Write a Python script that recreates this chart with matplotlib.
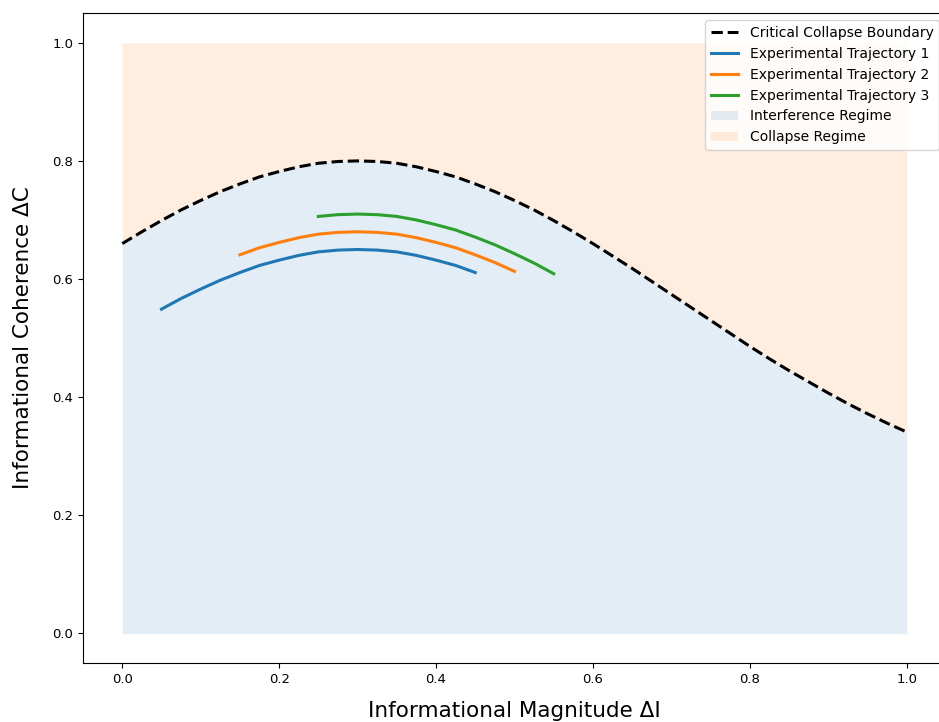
import matplotlib
matplotlib.use('Agg')
import matplotlib.pyplot as plt
import numpy as np

plt.rcParams['font.family'] = ['DejaVu Sans']

# boundary on a 0.025 grid in dI
boundary_x = np.linspace(0.0, 1.0, 41)
boundary_c = [0.660, 0.680, 0.699, 0.717, 0.733, 0.748, 0.761, 0.773, 0.782, 0.790,
              0.796, 0.799, 0.800, 0.799, 0.796, 0.790, 0.782, 0.773, 0.761, 0.748,
              0.733, 0.717, 0.699, 0.680, 0.660, 0.639, 0.618, 0.596, 0.574, 0.552,
              0.530, 0.508, 0.486, 0.465, 0.445, 0.426, 0.407, 0.389, 0.372, 0.356,
              0.341]

traj1_x = np.linspace(0.05, 0.45, 17)
traj1_c = [0.549, 0.567, 0.583, 0.598, 0.611, 0.623, 0.632, 0.640, 0.646, 0.649,
           0.650, 0.649, 0.646, 0.640, 0.632, 0.623, 0.611]

traj2_x = np.linspace(0.15, 0.50, 15)
traj2_c = [0.641, 0.653, 0.662, 0.670, 0.676, 0.679, 0.680, 0.679, 0.676, 0.670,
           0.662, 0.653, 0.641, 0.628, 0.613]

traj3_x = np.linspace(0.25, 0.55, 13)
traj3_c = [0.706, 0.709, 0.710, 0.709, 0.706, 0.700, 0.692, 0.683, 0.671, 0.658,
           0.643, 0.627, 0.609]

fig = plt.figure(figsize=(9.39, 7.22), dpi=100)
# right spine falls just outside the canvas, as in the reference
ax = fig.add_axes([0.0884, 0.0817, 0.919, 0.900])

ax.plot(boundary_x, boundary_c, 'k--', lw=2.2, label='Critical Collapse Boundary')
ax.plot(traj1_x, traj1_c, color='tab:blue', lw=2.2, label='Experimental Trajectory 1')
ax.plot(traj2_x, traj2_c, color='tab:orange', lw=2.2, label='Experimental Trajectory 2')
ax.plot(traj3_x, traj3_c, color='tab:green', lw=2.2, label='Experimental Trajectory 3')

ax.fill_between(boundary_x, 0, boundary_c, color='tab:blue', alpha=0.13, lw=0,
                label='Interference Regime')
ax.fill_between(boundary_x, boundary_c, 1, color='tab:orange', alpha=0.13, lw=0,
                label='Collapse Regime')

ax.set_xlim(-0.05, 1.05)
ax.set_ylim(-0.05, 1.05)
ax.set_xticks(np.arange(0, 1.01, 0.2))
ax.set_yticks(np.arange(0, 1.01, 0.2))
ax.tick_params(axis='both', labelsize=9.5)

ax.set_xlabel('Informational Magnitude ΔI', fontsize=15.5, labelpad=11)
ax.set_ylabel('Informational Coherence ΔC', fontsize=15.5, labelpad=14)

ax.legend(loc='upper right', fontsize=10.0)

plt.savefig('out.png', dpi=100)
